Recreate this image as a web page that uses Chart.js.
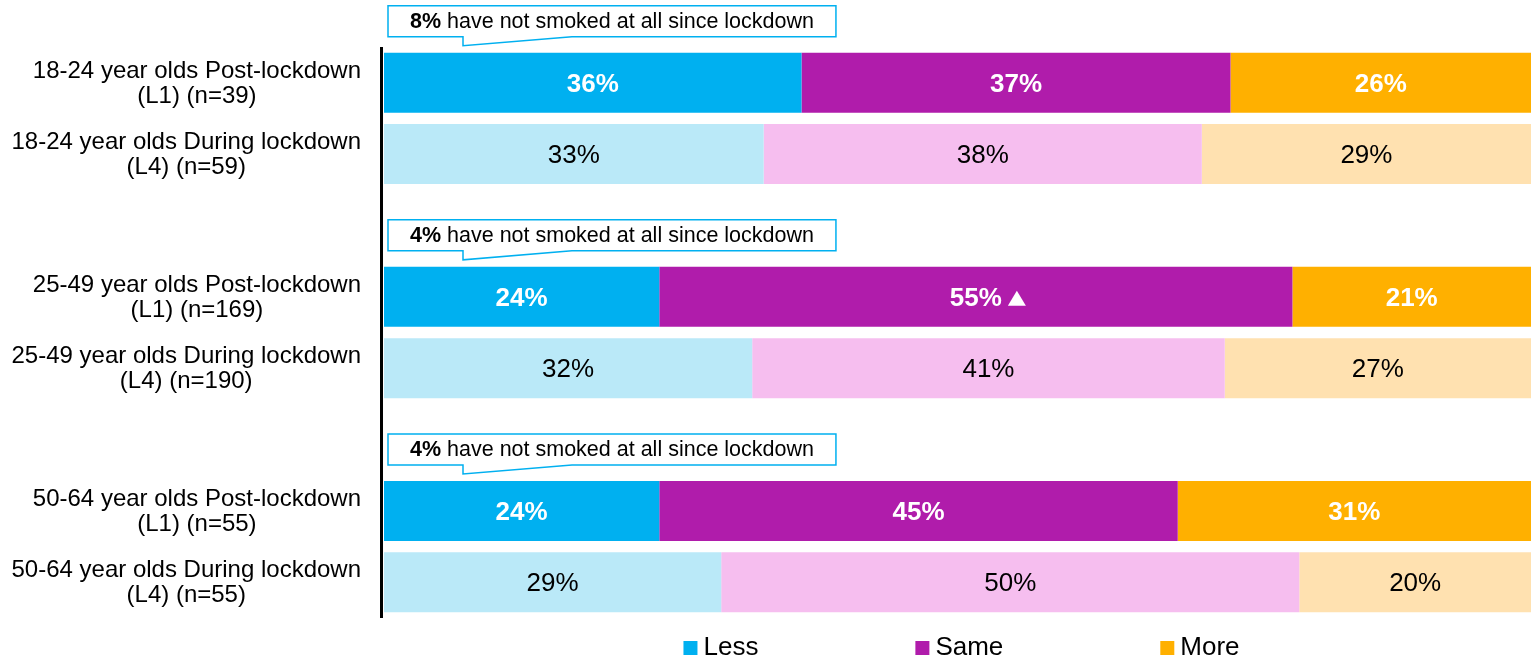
<!DOCTYPE html>
<html>
<head>
<meta charset="utf-8">
<script src="https://cdn.jsdelivr.net/npm/chart.js@4.4.1/dist/chart.umd.min.js"></script>
<style>
  html, body { margin: 0; padding: 0; background: #fff; }
</style>
</head>
<body>
<canvas id="chartSmoke" width="1531" height="660"></canvas>
<script>
// rows of the chart, blank rows split the age groups
const rowLabels = [
    ['18-24 year olds Post-lockdown', '(L1) (n=39)'],
    ['18-24 year olds During lockdown', '(L4) (n=59)'],
    [],
    ['25-49 year olds Post-lockdown', '(L1) (n=169)'],
    ['25-49 year olds During lockdown', '(L4) (n=190)'],
    [],
    ['50-64 year olds Post-lockdown', '(L1) (n=55)'],
    ['50-64 year olds During lockdown', '(L4) (n=55)']
];
const postRows = [true, false, null, true, false, null, true, false];
const lessValues = [36.4, 33.1, null, 24.0, 32.1, null, 24.0, 29.4];
const sameValues = [37.4, 38.2, null, 55.2, 41.2, null, 45.2, 50.4];
const moreValues = [26.2, 28.7, null, 20.8, 26.7, null, 30.8, 20.2];
// significant change marker
const sameMarks = [false, false, false, true, false, false, false, false];
const calloutRows = [0, 3, 6];
const calloutPct = ['8%', '4%', '4%'];
const calloutText = ' have not smoked at all since lockdown';

const darkColors = ['#00B0F0', '#B01CAB', '#FFB000'];
const lightColors = ['#BAE9F8', '#F6BEEF', '#FFE1B0'];
const font = '"Liberation Sans", Arial, sans-serif';

function rowColor(i) {
    return ctx => postRows[ctx.dataIndex] ? darkColors[i] : lightColors[i];
}

const smokePlugin = {
    id: 'smokeExtras',
    afterDatasetsDraw(chart) {
        const ctx = chart.ctx;
        const area = chart.chartArea;
        const yScale = chart.scales.y;
        ctx.save();

        // axis line
        ctx.fillStyle = '#000';
        ctx.fillRect(area.left - 4, area.top, 3, area.bottom - area.top);

        // values inside the bars
        ctx.textAlign = 'center';
        ctx.textBaseline = 'alphabetic';
        chart.data.datasets.forEach((ds, di) => {
            const meta = chart.getDatasetMeta(di);
            meta.data.forEach((bar, i) => {
                const v = ds.data[i];
                if (v == null) return;
                const post = postRows[i];
                ctx.font = (post ? 'bold ' : '') + '26px ' + font;
                ctx.fillStyle = post ? '#fff' : '#000';
                const text = Math.round(v) + '%';
                const cx = (bar.x + bar.base) / 2;
                ctx.fillText(text, cx, bar.y + 9);
                if (ds.marks && ds.marks[i]) {
                    const mx = cx + ctx.measureText(text).width / 2 + 6;
                    ctx.beginPath();
                    ctx.moveTo(mx, bar.y + 9);
                    ctx.lineTo(mx + 18, bar.y + 9);
                    ctx.lineTo(mx + 9, bar.y - 6);
                    ctx.closePath();
                    ctx.fill();
                }
            });
        });

        // row labels, lines centred in a right aligned block
        ctx.fillStyle = '#000';
        ctx.font = '24px ' + font;
        rowLabels.forEach((lines, i) => {
            if (!lines.length) return;
            const y = yScale.getPixelForValue(i);
            const widest = Math.max(...lines.map(l => ctx.measureText(l).width));
            const cx = area.left - 23 - widest / 2;
            lines.forEach((l, j) => ctx.fillText(l, cx, y - 5 + j * 25));
        });

        // callouts above each age group
        const cFont = '21.5px ' + font;
        calloutRows.forEach((row, k) => {
            const y = yScale.getPixelForValue(row);
            const left = area.left + 4;
            ctx.font = 'bold ' + cFont;
            const w1 = ctx.measureText(calloutPct[k]).width;
            ctx.font = cFont;
            const w2 = ctx.measureText(calloutText).width;
            const right = left + 22 + w1 + w2 + 22;
            const top = y - 77, bottom = y - 46;
            ctx.beginPath();
            ctx.moveTo(left, top);
            ctx.lineTo(right, top);
            ctx.lineTo(right, bottom);
            ctx.lineTo(left + 184, bottom);
            ctx.lineTo(left + 75, y - 37);
            ctx.lineTo(left + 75, bottom);
            ctx.lineTo(left, bottom);
            ctx.closePath();
            ctx.fillStyle = '#fff';
            ctx.fill();
            ctx.strokeStyle = '#00B0F0';
            ctx.lineWidth = 1.5;
            ctx.stroke();
            ctx.fillStyle = '#000';
            ctx.textAlign = 'left';
            ctx.font = 'bold ' + cFont;
            ctx.fillText(calloutPct[k], left + 22, y - 55);
            ctx.font = cFont;
            ctx.fillText(calloutText, left + 22 + w1, y - 55);
        });

        // legend
        ctx.font = '26px ' + font;
        const gap = 157;
        const items = chart.data.datasets.map((ds, i) => ({
            name: ds.label, color: darkColors[i], w: 20 + ctx.measureText(ds.label).width
        }));
        const total = items.reduce((s, it) => s + it.w, 0) + gap * (items.length - 1);
        let x = (area.left + area.right) / 2 + 4 - total / 2;
        ctx.textAlign = 'left';
        items.forEach(it => {
            ctx.fillStyle = it.color;
            ctx.fillRect(x, 641, 14, 14);
            ctx.fillStyle = '#000';
            ctx.fillText(it.name, x + 20, 655);
            x += it.w + gap;
        });

        ctx.restore();
    }
};

const ctxSmoke = document.getElementById('chartSmoke');
const chartSmoke = new Chart(ctxSmoke, {
    type: 'bar',
    data: {
        labels: rowLabels.map(l => l.join(' ')),
        datasets: [
            { label: 'Less', data: lessValues, backgroundColor: rowColor(0) },
            { label: 'Same', data: sameValues, backgroundColor: rowColor(1), marks: sameMarks },
            { label: 'More', data: moreValues, backgroundColor: rowColor(2) }
        ]
    },
    options: {
        indexAxis: 'y',
        responsive: false,
        animation: false,
        barPercentage: 0.84,
        categoryPercentage: 1,
        layout: { padding: { top: 47, bottom: 42, left: 0, right: 0 } },
        plugins: {
            legend: { display: false },
            tooltip: { enabled: false }
        },
        scales: {
            x: { stacked: true, min: 0, max: 100, display: false },
            y: {
                stacked: true,
                grid: { display: false },
                border: { display: false },
                ticks: { display: false },
                afterFit: scale => { scale.width = 384; }
            }
        }
    },
    plugins: [smokePlugin]
});
</script>
</body>
</html>
